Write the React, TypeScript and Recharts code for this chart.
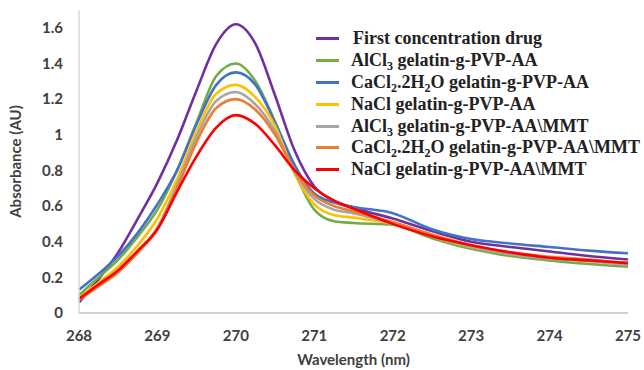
import { LineChart, Line, XAxis, YAxis, Legend } from "recharts";

// wavelength (nm) sampled off the figure
const wavelengths = [
    268, 268.25, 268.5, 268.75, 269, 269.25, 269.5, 269.75, 270, 270.25, 270.5, 270.75,
    271, 271.25, 271.5, 272, 272.5, 273, 273.5, 274, 274.5, 275,
];

const firstDrug = [0.06, 0.19, 0.34, 0.53, 0.73, 0.97, 1.25, 1.51, 1.62, 1.51, 1.22, 0.91, 0.71, 0.63, 0.59, 0.53, 0.46, 0.4, 0.37, 0.345, 0.32, 0.3];
const alcl3 = [0.1, 0.2, 0.3, 0.43, 0.58, 0.8, 1.07, 1.33, 1.4, 1.3, 1.07, 0.79, 0.58, 0.515, 0.505, 0.495, 0.42, 0.36, 0.32, 0.295, 0.275, 0.26];
const cacl2 = [0.13, 0.22, 0.32, 0.45, 0.61, 0.8, 1.06, 1.28, 1.35, 1.28, 1.07, 0.83, 0.67, 0.62, 0.595, 0.56, 0.47, 0.415, 0.39, 0.37, 0.35, 0.335];
const nacl = [0.085, 0.17, 0.26, 0.38, 0.53, 0.75, 1.02, 1.23, 1.28, 1.21, 1.05, 0.78, 0.61, 0.55, 0.535, 0.5, 0.43, 0.37, 0.335, 0.31, 0.295, 0.28];
const alcl3Mmt = [0.075, 0.15, 0.23, 0.34, 0.48, 0.72, 0.99, 1.19, 1.24, 1.17, 1.02, 0.79, 0.64, 0.58, 0.56, 0.5, 0.43, 0.37, 0.33, 0.305, 0.29, 0.27];
const cacl2Mmt = [0.075, 0.15, 0.23, 0.34, 0.47, 0.7, 0.96, 1.15, 1.2, 1.14, 1.0, 0.8, 0.66, 0.6, 0.57, 0.51, 0.44, 0.38, 0.34, 0.315, 0.3, 0.28];
const naclMmt = [0.08, 0.16, 0.24, 0.35, 0.47, 0.68, 0.88, 1.04, 1.11, 1.06, 0.94, 0.8, 0.7, 0.63, 0.585, 0.5, 0.43, 0.38, 0.34, 0.31, 0.295, 0.28];

const xTicks = [268, 269, 270, 271, 272, 273, 274, 275];
const yTicks = [0, 0.2, 0.4, 0.6, 0.8, 1, 1.2, 1.4, 1.6];

// "_3" means subscript 3
const series = [
    { key: "first", name: "First concentration drug", color: "#7030A0", values: firstDrug },
    { key: "alcl3", name: "AlCl_3 gelatin-g-PVP-AA", color: "#70AD47", values: alcl3 },
    { key: "cacl2", name: "CaCl_2.2H_2O gelatin-g-PVP-AA", color: "#4472C4", values: cacl2 },
    { key: "nacl", name: "NaCl gelatin-g-PVP-AA", color: "#FFC000", values: nacl },
    { key: "alcl3Mmt", name: "AlCl_3 gelatin-g-PVP-AA\\MMT", color: "#A5A5A5", values: alcl3Mmt },
    { key: "cacl2Mmt", name: "CaCl_2.2H_2O gelatin-g-PVP-AA\\MMT", color: "#ED7D31", values: cacl2Mmt },
    { key: "naclMmt", name: "NaCl gelatin-g-PVP-AA\\MMT", color: "#FF0000", values: naclMmt },
];

const chartData = wavelengths.map((w, i) => {
    const row: Record<string, number> = { wavelength: w };
    series.forEach((s) => { row[s.key] = s.values[i]; });
    return row;
});

const axisFont = { fontFamily: "Lato", fontWeight: 700, fontSize: 15, fill: "#404040" };

function withSubs(name: string) {
    const parts = name.split(/_(\d)/);
    return parts.map((p, i) =>
        i % 2 === 1 ? <sub key={i} style={{ fontSize: 12, verticalAlign: "-4px", lineHeight: 0 }}>{p}</sub> : <span key={i}>{p}</span>
    );
}

const renderLegend = () => (
    <div style={{ fontFamily: "Liberation Serif", fontWeight: 700, fontSize: 18, color: "#222" }}>
        {series.map((s, i) => (
            <div key={s.key} style={{ display: "flex", alignItems: "center", height: 21.8 }}>
                <div style={{ width: 23, height: 3, background: s.color, marginRight: i === 0 ? 14 : 12 }} />
                <div style={{ whiteSpace: "nowrap" }}>{withSubs(s.name)}</div>
            </div>
        ))}
    </div>
);

const App = () => {
    return (
        <div style={{ position: "absolute", left: 0, top: 0, background: "#fff" }}>
            <LineChart width={644} height={370} data={chartData} margin={{ top: 10, right: 16, bottom: 0, left: 0 }}>
                <XAxis
                    dataKey="wavelength"
                    type="number"
                    domain={[268, 275]}
                    ticks={xTicks}
                    tickLine={false}
                    tickSize={0}
                    tickMargin={17}
                    axisLine={{ stroke: "#BFBFBF", strokeWidth: 1.5 }}
                    tick={axisFont}
                    height={57}
                    label={{ value: "Wavelength (nm)", position: "insideBottom", offset: 5, style: axisFont }}
                />
                <YAxis
                    type="number"
                    domain={[0, 1.7]}
                    ticks={yTicks}
                    interval={0}
                    tickLine={false}
                    tickSize={0}
                    tickMargin={16}
                    axisLine={{ stroke: "#D9D9D9", strokeWidth: 1.5 }}
                    tick={axisFont}
                    width={79}
                    label={{ value: "Absorbance (AU)", angle: -90, position: "insideLeft", offset: 16, style: { ...axisFont, textAnchor: "middle" } }}
                />
                <Legend
                    content={renderLegend}
                    layout="horizontal"
                    verticalAlign="middle"
                    align="center"
                    wrapperStyle={{ left: 316, top: 28, width: 330 }}
                />
                {series.map((s) => (
                    <Line
                        key={s.key}
                        type="monotone"
                        dataKey={s.key}
                        name={s.name}
                        stroke={s.color}
                        strokeWidth={2.6}
                        dot={false}
                        isAnimationActive={false}
                    />
                ))}
            </LineChart>
        </div>
    );
};

export default App;
